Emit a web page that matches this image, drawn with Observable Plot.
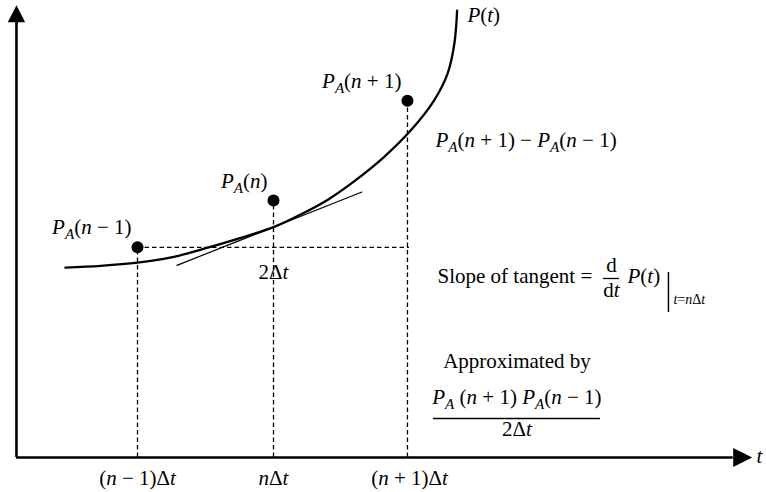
<!DOCTYPE html>
<html><head><meta charset="utf-8">
<script src="https://cdn.jsdelivr.net/npm/d3@7"></script>
<script src="https://cdn.jsdelivr.net/npm/@observablehq/plot@0.6"></script>
<style>html,body{margin:0;padding:0;background:#fff;}</style>
</head><body><div id="chart"></div>
<script>
// ---- data (t in units of Δt, P in arbitrary units) ----
const curveT = [0.47, 0.73, 1.0, 1.24, 1.49, 1.76, 2.01, 2.2, 2.4, 2.59, 2.81, 3.01, 3.18, 3.28, 3.33, 3.35];
const curveP = [4.22, 4.26, 4.33, 4.44, 4.64, 4.88, 5.13, 5.4, 5.73, 6.13, 6.67, 7.27, 7.93, 8.53, 9.2, 9.93];
const sampleT = [1, 2, 2.985];
const sampleP = [4.67, 5.71, 7.93];
const sampleLabels = ["*P*_A(*n* − 1)", "*P*_A(*n*)", "*P*_A(*n* + 1)"];
const tangentT = [1.29, 2.65];
const tangentP = [4.27, 5.9];
const tickT = [1, 2, 3];
const tickLabels = ["(*n* − 1)Δ*t*", "*n*Δ*t*", "(*n* + 1)Δ*t*"];
const axisT = [0.11, 5.38];
const axisP = [0, 9.67];

// annotation texts
const annotations = [
  {text: "*P*(*t*)", t: 3.426, P: 9.667, anchor: "start", size: 21},
  {text: "*P*_A(*n* + 1) − *P*_A(*n* − 1)", t: 3.191, P: 6.911, anchor: "start", size: 21},
  {text: "2Δ*t*", t: 2, P: 3.956, anchor: "middle", size: 21},
  {text: "Slope of tangent =", t: 3.206, P: 3.867, anchor: "start", size: 21},
  {text: "d", t: 4.485, P: 4.133, anchor: "middle", size: 21},
  {text: "d*t*", t: 4.485, P: 3.556, anchor: "middle", size: 21},
  {text: "*P*(*t*)", t: 4.603, P: 3.867, anchor: "start", size: 21},
  {text: "*t*=*n*Δ*t*", t: 4.941, P: 3.422, anchor: "start", size: 14},
  {text: "Approximated by", t: 3.79, P: 1.978, anchor: "middle", size: 21},
  {text: "*P*_A (*n* + 1) *P*_A(*n* − 1)", t: 3.79, P: 1.2, anchor: "middle", size: 21},
  {text: "2Δ*t*", t: 3.79, P: 0.467, anchor: "middle", size: 21},
  {text: "*t*", t: 5.551, P: -0.133, anchor: "start", size: 21}
];
const fractionBars = [
  {t1: 4.426, t2: 4.544, P: 3.978},
  {t1: 3.176, t2: 4.404, P: 0.867}
];
const evalBar = {t: 4.904, P1: 3.222, P2: 4.111};

const curve = curveT.map((t, i) => ({t, P: curveP[i]}));
const samples = sampleT.map((t, i) => ({t, P: sampleP[i], label: sampleLabels[i]}));
const tangent = tangentT.map((t, i) => ({t, P: tangentP[i]}));
const ticks = tickT.map((t, i) => ({t, label: tickLabels[i]}));

const arrowUp = {draw(ctx) { ctx.moveTo(0, -17); ctx.lineTo(8.7, 0); ctx.lineTo(-8.7, 0); ctx.closePath(); }};
const arrowRight = {draw(ctx) { ctx.moveTo(19, 0); ctx.lineTo(0, -9.5); ctx.lineTo(0, 9.5); ctx.closePath(); }};

const textMarks = [21, 14].map(sz => Plot.text(annotations.filter(a => a.size === sz && a.anchor === "start"), {x: "t", y: "P", text: "text", textAnchor: "start", lineAnchor: "bottom", fontSize: sz}))
  .concat([Plot.text(annotations.filter(a => a.anchor === "middle"), {x: "t", y: "P", text: "text", textAnchor: "middle", lineAnchor: "bottom", fontSize: 21})]);

const chart = Plot.plot({
  width: 766,
  height: 492,
  margin: 0,
  x: {domain: [1, 3], range: [137, 409], axis: null},
  y: {domain: [0, 10], range: [457, 7], axis: null},
  style: {fontFamily: "'Liberation Serif', 'DejaVu Serif', serif", background: "white", color: "black"},
  marks: [
    // dashed guides
    Plot.ruleX(samples, {x: "t", y1: 0, y2: "P", stroke: "black", strokeWidth: 1.3, strokeDasharray: "4.5,3"}),
    Plot.ruleY([samples[0]], {y: "P", x1: sampleT[0], x2: tickT[2], stroke: "black", strokeWidth: 1.3, strokeDasharray: "4.5,3"}),
    // axes
    Plot.ruleX([axisT[0]], {y1: axisP[0], y2: axisP[1], stroke: "black", strokeWidth: 2.6}),
    Plot.ruleY([axisP[0]], {x1: axisT[0], x2: axisT[1], stroke: "black", strokeWidth: 2.6}),
    Plot.dot([{t: axisT[0], P: axisP[1]}], {x: "t", y: "P", symbol: arrowUp, fill: "black", stroke: "none"}),
    Plot.dot([{t: axisT[1], P: axisP[0]}], {x: "t", y: "P", symbol: arrowRight, fill: "black", stroke: "none"}),
    // curve and tangent
    Plot.line(curve, {x: "t", y: "P", curve: "catmull-rom", stroke: "black", strokeWidth: 2.3}),
    Plot.line(tangent, {x: "t", y: "P", stroke: "black", strokeWidth: 1.2}),
    // samples
    Plot.dot(samples, {x: "t", y: "P", r: 6, fill: "black", stroke: "none"}),
    Plot.text(samples, {x: "t", y: "P", text: "label", textAnchor: "end", lineAnchor: "bottom", dx: -6, dy: -13, fontSize: 21}),
    // tick labels
    Plot.text(ticks, {x: "t", y: 0, text: "label", textAnchor: "middle", lineAnchor: "bottom", dy: 27, fontSize: 21}),
    // fraction bars & evaluation bar
    Plot.ruleY(fractionBars, {y: "P", x1: "t1", x2: "t2", stroke: "black", strokeWidth: 1.3}),
    Plot.ruleX([evalBar], {x: "t", y1: "P1", y2: "P2", stroke: "black", strokeWidth: 1.5}),
    ...textMarks
  ]
});

// rich text: *x* italic, _X italic subscript
const SUB = 5;
chart.querySelectorAll("text").forEach(el => {
  const s = el.textContent;
  if (!/[*_]/.test(s)) return;
  el.textContent = "";
  const re = /\*([^*]+)\*|_(.)|([^*_]+)/g;
  let m, pending = 0;
  while ((m = re.exec(s))) {
    const ts = document.createElementNS("http://www.w3.org/2000/svg", "tspan");
    if (m[2]) {
      ts.textContent = m[2];
      ts.setAttribute("font-style", "italic");
      ts.setAttribute("font-size", "0.72em");
      ts.setAttribute("dy", SUB + "px");
      pending = -SUB;
    } else {
      if (m[1]) { ts.textContent = m[1]; ts.setAttribute("font-style", "italic"); }
      else ts.textContent = m[3];
      if (pending) { ts.setAttribute("dy", pending + "px"); pending = 0; }
    }
    el.appendChild(ts);
  }
});

document.getElementById("chart").appendChild(chart);
</script></body></html>
